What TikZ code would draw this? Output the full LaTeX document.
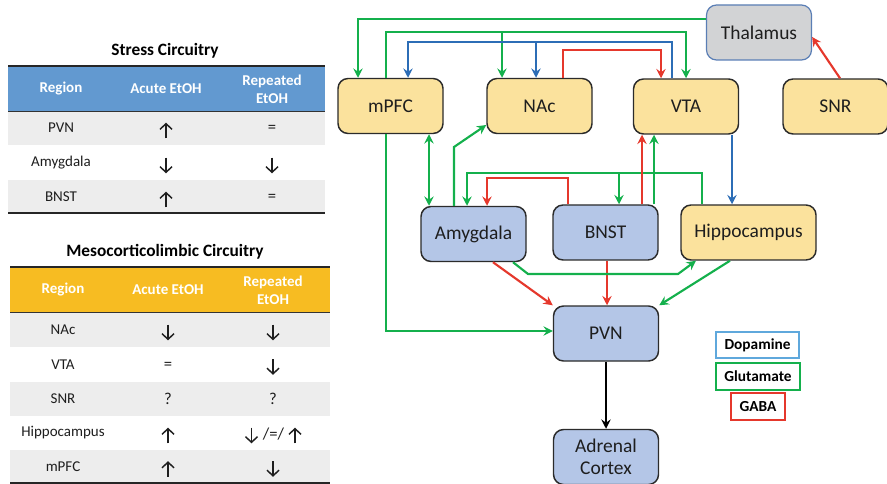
\documentclass[tikz,border=0pt]{standalone}
\usepackage{fontspec}
\setmainfont{Carlito}
\usetikzlibrary{arrows.meta}
\definecolor{yel}{HTML}{FBE29D}
\definecolor{lblue}{HTML}{B4C6E7}
\definecolor{thgray}{HTML}{D2D3D5}
\definecolor{thline}{HTML}{5A7EB5}
\definecolor{boxline}{HTML}{2B2B2B}
\definecolor{txt}{HTML}{1E1E1E}
\definecolor{gGreen}{HTML}{14B04C}
\definecolor{gBlue}{HTML}{2C6DB6}
\definecolor{gRed}{HTML}{E5382C}
\definecolor{legBlue}{HTML}{5FA8DC}
\definecolor{hdrBlue}{HTML}{6299D0}
\definecolor{hdrOrange}{HTML}{F7BC22}
\definecolor{rowGray}{HTML}{EDEDED}
\begin{document}
\begin{tikzpicture}[x=0.75pt,y=-0.75pt,
  >={Stealth[length=7pt,width=7pt,inset=2.5pt]},
  box/.style={draw=boxline, line width=1.1pt, rounded corners=7.5pt,
    minimum width=78.75pt, minimum height=41.25pt,
    font=\fontsize{14.6}{16.5}\selectfont, text=txt, align=center, inner sep=0pt},
  ybox/.style={box, fill=yel},
  bbox/.style={box, fill=lblue},
  conn/.style={line width=1.6pt, ->},
  glu/.style={conn, draw=gGreen},
  dop/.style={conn, draw=gBlue},
  gab/.style={conn, draw=gRed},
  cell/.style={font=\fontsize{11.25}{13.5}\selectfont, text=txt, inner sep=0pt},
  symcell/.style={font=\fontsize{12.5}{13.5}\selectfont, text=txt, inner sep=0pt},
  hcell/.style={font=\fontsize{11.25}{13.5}\selectfont\bfseries, text=white, align=center, inner sep=0pt},
  ttl/.style={font=\fontsize{13}{15}\selectfont\bfseries, text=black, inner sep=0pt},
  leg/.style={draw, line width=1.5pt, fill=white, font=\fontsize{11.5}{13}\selectfont\bfseries, text=black, inner sep=0pt},
  tarrow/.style={line width=1.1pt, draw=txt, -{Straight Barb[length=4.2pt,width=9pt]}},
  uarr/.pic={\draw[tarrow] (0,10.3) -- (0,-5.3);},
  darr/.pic={\draw[tarrow] (0,-5.3) -- (0,10.3);}
]
\useasboundingbox (0,0) rectangle (887,484);

% ---------- Table 1: Stress Circuitry ----------
\node[ttl] (t1title) at (165,51) {Stress Circuitry};
\fill[hdrBlue] (8,66) rectangle (325,111);
\fill[rowGray] (8,111) rectangle (325,145);
\fill[rowGray] (8,180) rectangle (325,213);
\draw[line width=0.6pt, black!80] (8,111) -- (325,111);
\draw[line width=1.6pt, black!85] (8,66) -- (325,66);
\draw[line width=1.6pt, black!85] (8,213) -- (325,213);
\node[hcell] (t1h1) at (61,89) {Region};
\node[hcell] (t1h2) at (166,89) {Acute EtOH};
\node[hcell] (t1h3) at (272,89) {Repeated\\EtOH};
\node[cell] (t1a1) at (61,128) {PVN};
\pic at (166,128) {uarr};
\node[symcell] (t1a3) at (272,129) {=};
\node[cell] (t1b1) at (61,163) {Amygdala};
\pic at (166,163) {darr};
\pic at (272,163) {darr};
\node[cell] (t1c1) at (61,197) {BNST};
\pic at (166,197) {uarr};
\node[symcell] (t1c3) at (272,198) {=};

% ---------- Table 2: Mesocorticolimbic Circuitry ----------
\node[ttl] (t2title) at (165,252) {Mesocorticolimbic Circuitry};
\fill[hdrOrange] (10,267) rectangle (330,312);
\fill[rowGray] (10,312) rectangle (330,347);
\fill[rowGray] (10,382) rectangle (330,416);
\fill[rowGray] (10,450) rectangle (330,483);
\draw[line width=0.6pt, black!80] (10,312) -- (330,312);
\draw[line width=1.6pt, black!85] (10,267) -- (330,267);
\draw[line width=1.6pt, black!85] (10,483) -- (330,483);
\node[hcell] (t2h1) at (63,290) {Region};
\node[hcell] (t2h2) at (168,290) {Acute EtOH};
\node[hcell] (t2h3) at (273,290) {Repeated\\EtOH};
\node[cell] (t2a1) at (63,330) {NAc};
\pic at (168,330) {darr};
\pic at (273,330) {darr};
\node[cell] (t2b1) at (63,364.5) {VTA};
\node[symcell] (t2b2) at (168,365.5) {=};
\pic at (273,364.5) {darr};
\node[cell] (t2c1) at (63,399) {SNR};
\node[symcell] (t2c2) at (168,399) {?};
\node[symcell] (t2c3) at (273,399) {?};
\node[cell] (t2d1) at (63,433) {Hippocampus};
\pic at (251.5,433) {darr};
\node[symcell] (t2d3) at (273.5,434) {/=/};
\pic at (295,433) {uarr};
\pic at (168,433) {uarr};
\node[cell] (t2e1) at (63,466.5) {mPFC};
\pic at (168,466.5) {uarr};
\pic at (273,466.5) {darr};

% ---------- Diagram nodes ----------
\node[ybox] (mPFC) at (390.5,106) {mPFC};
\node[ybox] (NAc) at (539.5,106) {NAc};
\node[ybox] (VTA) at (686,106.5) {VTA};
\node[box, fill=thgray, draw=thline, line width=0.9pt] (Thal) at (759,32.5) {Thalamus};
\node[ybox] (SNR) at (835.5,106.5) {SNR};
\node[bbox] (Amyg) at (473.5,234) {Amygdala};
\node[bbox] (BNST) at (605.5,232.5) {BNST};
\node[ybox, minimum width=101.25pt] (Hip) at (748.5,232.5) {Hippocampus};
\node[bbox] (PVN) at (606,333.5) {PVN};
\node[bbox, align=center] (Adr) at (606,457) {Adrenal\\Cortex};

% ---------- Legend ----------
\node[leg, draw=legBlue, minimum width=62.25pt, minimum height=19.5pt] (lDop) at (757.5,345) {Dopamine};
\node[leg, draw=gGreen, minimum width=63pt, minimum height=20.25pt] (lGlu) at (758,376.5) {Glutamate};
\node[leg, draw=gRed, minimum width=40.5pt, minimum height=20.25pt] (lGab) at (758,406.5) {GABA};

% ---------- Connectors ----------
% Thalamus -> mPFC
\draw[glu] (Thal.west |- 0,19) -- (358,19) -- (358,0 |- mPFC.north);
% mPFC -> NAc, VTA
\draw[glu] (386,0 |- mPFC.north) -- (386,32) -- (686,32) -- (686,0 |- VTA.north);
\draw[glu] (502,32) -- (502,0 |- NAc.north);
% VTA -> mPFC, NAc (dopamine)
\draw[dop] (672,0 |- VTA.north) -- (672,42) -- (408,42) -- (408,0 |- mPFC.north);
\draw[dop] (536,42) -- (536,0 |- NAc.north);
% NAc -> VTA (GABA)
\draw[gab] (563,0 |- NAc.north) -- (563,50) -- (661,50) -- (661,0 |- VTA.north);
% SNR -> Thalamus
\draw[gab] (840,0 |- SNR.north) -- (Thal.east |- 0,37);
% VTA -> Hippocampus
\draw[dop] (732,0 |- VTA.south) -- (732,0 |- Hip.north);
% mPFC <-> Amygdala
\draw[glu, <->] (429,0 |- mPFC.south) -- (429,0 |- Amyg.north);
% Amygdala -> NAc
\draw[glu] (454,0 |- Amyg.north) -- (454,147) -- (NAc.west |- 0,125);
% mPFC -> PVN
\draw[glu] (386,0 |- mPFC.south) -- (386,331) -- (PVN.west |- 0,331);
% Hippocampus -> Amygdala, BNST
\draw[glu] (702,0 |- Hip.north) -- (702,173) -- (467,173) -- (467,0 |- Amyg.north);
\draw[glu] (619,173) -- (619,0 |- BNST.north);
% BNST -> Amygdala (GABA)
\draw[gab] (568,0 |- BNST.north) -- (568,178) -- (487,178) -- (487,0 |- Amyg.north);
% BNST -> VTA
\draw[gab] (642,0 |- BNST.north) -- (642,0 |- VTA.south);
\draw[glu] (654,0 |- BNST.north) -- (654,0 |- VTA.south);
% Amygdala -> PVN
\draw[gab] (493,0 |- Amyg.south) -- (PVN.north west);
% BNST -> PVN
\draw[gab] (607,0 |- BNST.south) -- (607,0 |- PVN.north);
% Amygdala -> Hippocampus
\draw[glu] (513,0 |- Amyg.south) -- (528,274) -- (678,274) -- (696,0 |- Hip.south);
% Hippocampus -> PVN
\draw[glu] (730,0 |- Hip.south) -- (PVN.north east);
% PVN -> Adrenal Cortex
\draw[conn, draw=black] (PVN.south) -- (Adr.north);
\end{tikzpicture}
\end{document}
